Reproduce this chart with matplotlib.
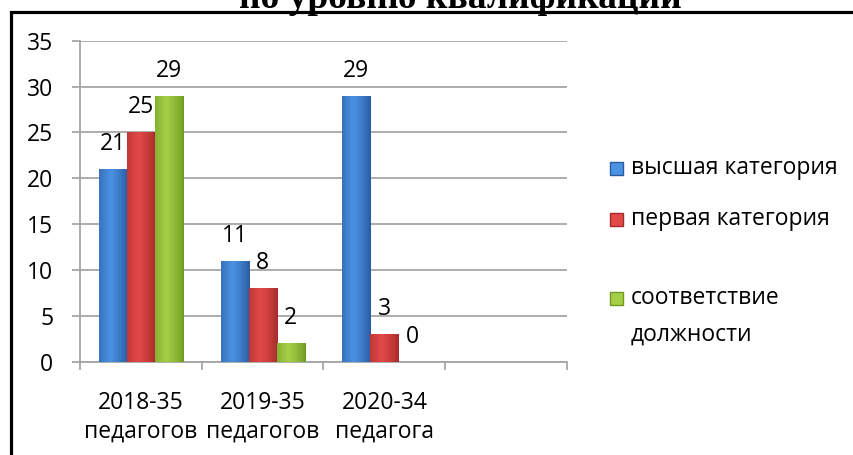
import matplotlib
matplotlib.use('Agg')
import matplotlib.pyplot as plt
import numpy as np
from matplotlib.patches import Rectangle
from matplotlib.colors import to_rgb

# ---- data ----
categories = ['2018-35\nпедагогов', '2019-35\nпедагогов', '2020-34\nпедагога', '']
series_names = ['высшая категория', 'первая категория', 'соответствие\nдолжности']
vysshaya = [21, 11, 29]
pervaya = [25, 8, 3]
sootvetstvie = [29, 2, 0]
y_ticks = [0, 5, 10, 15, 20, 25, 30, 35]
title = 'по уровню квалификации'

series = [vysshaya, pervaya, sootvetstvie]
# (dark edge, light center) per series
colors = [('#2a5aa0', '#4a92e2'), ('#a52a2a', '#e24a48'), ('#6f9a22', '#a6cf48')]

plt.rcParams['font.family'] = ['Open Sans', 'DejaVu Sans']
W, H = 854, 455
fig = plt.figure(figsize=(W / 100, H / 100), dpi=100)

x_left, x_right = 80, 567
y_zero, y_top = 361.7, 40.7
ax = fig.add_axes([x_left / W, 1 - y_zero / H, (x_right - x_left) / W, (y_zero - y_top) / H])

FS = 16.5
bar_w = 0.23
x = np.arange(len(vysshaya))
offsets = [-bar_w, 0, bar_w]


def gradient_img(dark, light, n=64):
    d = np.array(to_rgb(dark)); l = np.array(to_rgb(light))
    t = np.linspace(0, 1, n)
    w = np.clip(1 - np.abs(t - 0.4) / 0.6, 0, 1) ** 0.8
    img = d[None, :] * (1 - w[:, None]) + l[None, :] * w[:, None]
    return img[None, :, :]


for s, vals in enumerate(series):
    bars = ax.bar(x + offsets[s], vals, width=bar_w, color=colors[s][0], zorder=3, linewidth=0)
    img = gradient_img(*colors[s])
    for b in bars:
        if b.get_height() > 0:
            im = ax.imshow(img, extent=[b.get_x(), b.get_x() + b.get_width(), 0, b.get_height()],
                           aspect='auto', zorder=4, interpolation='bilinear')
            im.set_clip_path(b)
        ax.annotate(f'{int(b.get_height())}', (b.get_x() + b.get_width() / 2, b.get_height()),
                    xytext=(0, 18), textcoords='offset points', ha='center', va='center',
                    fontsize=FS, color='black', zorder=6)

ax.set_xlim(-0.5, 3.5)
ax.set_ylim(0, 35)

gcol = '#a6a6a6'
ax.set_yticks(y_ticks)
ax.set_yticklabels([str(v) for v in y_ticks], fontsize=FS)
ax.yaxis.grid(True, color=gcol, linewidth=1.3, zorder=0)
ax.set_axisbelow(True)
ax.tick_params(axis='y', length=5.8, width=1.3, color=gcol, pad=13.5)

ax.set_xticks(np.arange(len(categories)))
ax.set_xticklabels(categories, fontsize=FS, linespacing=1.25)
ax.set_xticks(np.arange(-0.5, len(categories), 1), minor=True)
ax.tick_params(axis='x', which='major', length=0, pad=21)
ax.tick_params(axis='x', which='minor', length=5.8, width=1.3, color=gcol)

for sp in ['top', 'right']:
    ax.spines[sp].set_visible(False)
for sp in ['left', 'bottom']:
    ax.spines[sp].set_color(gcol)
    ax.spines[sp].set_linewidth(1.3)

# ---- legend (manual) ----
leg_rows = [168, 219, 298]
sq = 13
for s, name in enumerate(series_names):
    yc = leg_rows[s]
    fig.add_artist(Rectangle((610 / W, 1 - (yc + sq / 2) / H), sq / W, sq / H,
                             transform=fig.transFigure, color=colors[s][1], ec=colors[s][0], lw=1))
    lines = name.split('\n')
    for i, line in enumerate(lines):
        fig.text(631 / W, 1 - (yc + 37 * i) / H, line, ha='left', va='center', fontsize=FS)

# ---- frame & title ----
fig.add_artist(Rectangle((11.5 / W, -0.5), 2, 1.5 - 11.5 / H, transform=fig.transFigure,
                         fill=False, ec='black', lw=2.3))
fig.text(460 / W, 1 - 8 / H, title, ha='center', va='baseline',
         family=['Liberation Serif', 'DejaVu Serif'], weight='bold', fontsize=27)

fig.savefig('out.png', dpi=100)
